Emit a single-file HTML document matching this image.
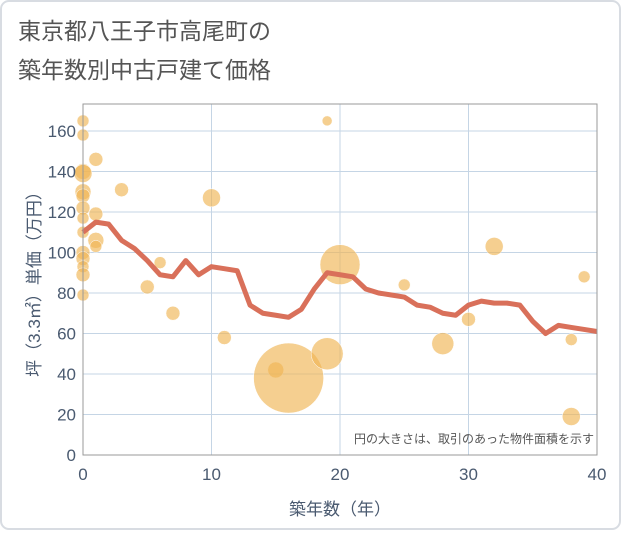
<!DOCTYPE html>
<html><head><meta charset="utf-8"><style>
body{margin:0;background:#fff;}
svg text{font-family:"Liberation Sans","Noto Sans CJK JP",sans-serif;}
</style></head><body>
<svg id="c" width="621" height="530" xmlns="http://www.w3.org/2000/svg">
<rect x="1" y="1" width="619" height="528" rx="8" fill="#fff" stroke="#d8dce2" stroke-width="2"/>
<text x="18" y="39" font-size="23" fill="#555">東京都八王子市高尾町の</text>
<text x="18" y="78" font-size="23" fill="#555">築年数別中古戸建て価格</text>
<g id="grid"></g>
<g id="bubbles"></g>
<g id="line"></g>
<rect x="83" y="104" width="514" height="351" fill="none" stroke="#999" stroke-width="1"/>
<g id="ticks"></g>
<text x="340" y="515" font-size="17" fill="#4a5a70" text-anchor="middle">築年数（年）</text>
<text transform="translate(40,280) rotate(-90)" font-size="17" fill="#4a5a70" text-anchor="middle">坪（3.3㎡）単価（万円）</text>
<text x="594" y="443" font-size="12" fill="#555" text-anchor="end">円の大きさは、取引のあった物件面積を示す</text>
</svg>
<script>
const xTicks=[0,10,20,30,40];
const yTicks=[0,20,40,60,80,100,120,140,160];
const lineYears=[0,1,2,3,4,5,6,7,8,9,10,11,12,13,14,15,16,17,18,19,20,21,22,23,24,25,26,27,28,29,30,31,32,33,34,35,36,37,38,39,40];
const lineValues=[110,115,114,106,102,96,89,88,96,89,93,92,91,74,70,69,68,72,82,90,89,88,82,80,79,78,74,73,70,69,74,76,75,75,74,66,60,64,63,62,61];
const bubbleYears=[0,0,0,0,0,0,0,0,0,0,0,0,0,0,1,1,1,1,3,6,5,7,10,11,15,16,19,19,20,25,28,30,32,38,38,39];
const bubbleValues=[165,158,140,139,130,128,122,117,110,100,97,93,89,79,146,119,106,103,131,95,83,70,127,58,42,38,50,165,94,84,55,67,103,57,19,88];
const bubbleSizes=[6,6,8,9,8,7,7,6,6,7,7,6,7,6,7,7,8,6,7,6,7,7,9,7,8,35,16,5,20,6,11,7,9,6,9,6];
const NS="http://www.w3.org/2000/svg";
const X=v=>83+v*(514/40);
const Y=v=>455-v*(324/160);
function mk(t,a,p){const e=document.createElementNS(NS,t);for(const k in a)e.setAttribute(k,a[k]);p.appendChild(e);return e;}
const g=document.getElementById('grid'),tk=document.getElementById('ticks');
xTicks.forEach(v=>{const l=mk('line',{x1:X(v),x2:X(v),y1:104,y2:455,stroke:'#c5d5e5'},g);


const t=mk('text',{x:X(v),y:480,'font-size':17,fill:'#4a5a70','text-anchor':'middle'},tk);t.textContent=v;

});
yTicks.forEach(v=>{const l=mk('line',{x1:83,x2:597,y1:Y(v),y2:Y(v),stroke:'#c5d5e5'},g);


const t=mk('text',{x:76,y:Y(v)+6,'font-size':17,fill:'#4a5a70','text-anchor':'end'},tk);t.textContent=v;

});
const bg=document.getElementById('bubbles');
bubbleYears.forEach((yr,i)=>{const c=mk('circle',{cx:X(yr),cy:Y(bubbleValues[i]),r:bubbleSizes[i],fill:'#f0b555','fill-opacity':0.65,stroke:'#fff','stroke-width':0.5},bg);

});
const p=mk('polyline',{points:lineYears.map((yr,i)=>X(yr)+','+Y(lineValues[i])).join(' '),fill:'none',stroke:'#d9705a','stroke-width':5,'stroke-linejoin':'round'},document.getElementById('line'));


</script>
</body></html>
